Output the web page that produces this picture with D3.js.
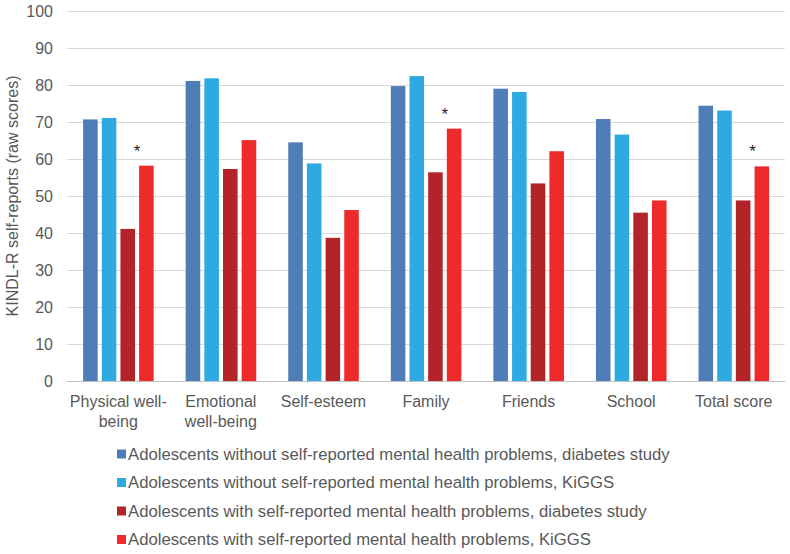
<!DOCTYPE html>
<html>
<head>
<meta charset="utf-8">
<script src="https://cdn.jsdelivr.net/npm/d3@7"></script>
<style>
  body { margin: 0; background: #fff; }
  svg { font-family: "Liberation Sans", Arial, sans-serif; }
</style>
</head>
<body>
<div id="chart"></div>
<script>
var width = 790;
var height = 554;

// categories on the x axis (\n = line break)
var categories = ["Physical well-\nbeing", "Emotional\nwell-being", "Self-esteem", "Family", "Friends", "School", "Total score"];

// series
var seriesNames = [
  "Adolescents without self-reported mental health problems, diabetes study",
  "Adolescents without self-reported mental health problems, KiGGS",
  "Adolescents with self-reported mental health problems, diabetes study",
  "Adolescents with self-reported mental health problems, KiGGS"
];
var withoutDiabetes = [70.7, 81.1, 64.5, 79.7, 79.0, 70.8, 74.4];
var withoutKiggs    = [71.1, 81.8, 58.8, 82.4, 78.1, 66.6, 73.1];
var withDiabetes    = [41.1, 57.3, 38.7, 56.4, 53.4, 45.5, 48.8];
var withKiggs       = [58.2, 65.1, 46.2, 68.2, 62.1, 48.8, 58.0];

// groups marked with an asterisk (significant difference)
var starred = [0, 3, 6];

var yTicks = [0, 10, 20, 30, 40, 50, 60, 70, 80, 90, 100];

var colors = ["#4f7db8", "#2ea9e1", "#b32428", "#ee2a2b"];
var seriesValues = [withoutDiabetes, withoutKiggs, withDiabetes, withKiggs];

var margin = {top: 11, right: 5, bottom: 173, left: 67};
var w = width - margin.left - margin.right;
var h = height - margin.top - margin.bottom;

var svg = d3.select('#chart')
  .append('svg')
    .attr('width', width)
    .attr('height', height);

var g = svg.append('g')
  .attr('transform', 'translate(' + margin.left + ',' + margin.top + ')');

var x0 = d3.scaleBand()
  .domain(categories)
  .range([0, w])
  .padding(0);

var x1 = d3.scaleBand()
  .domain(d3.range(seriesNames.length))
  .range([x0.bandwidth() * 0.157, x0.bandwidth() * 0.845])
  .paddingInner(0.22)
  .paddingOuter(0);

var y = d3.scaleLinear()
  .domain([0, 100])
  .range([h, 0]);

// y axis + gridlines
var yAxis = g.append('g')
  .call(d3.axisLeft(y).tickValues(yTicks).tickSize(-w).tickPadding(14));
yAxis.select('.domain').remove();
yAxis.selectAll('.tick line')
  .attr('stroke', d => d === 0 ? '#bfbfbf' : '#d9d9d9')
  .attr('stroke-width', 1.2);
yAxis.selectAll('.tick text')
  .attr('fill', '#595959')
  .style('font-size', '16px');

// bars
var group = g.selectAll('.grp')
  .data(categories)
  .join('g')
    .attr('class', 'grp')
    .attr('transform', d => 'translate(' + x0(d) + ',0)');

group.selectAll('rect')
  .data((d, i) => seriesValues.map((s, k) => ({k: k, v: s[i]})))
  .join('rect')
    .attr('x', d => x1(d.k))
    .attr('width', x1.bandwidth())
    .attr('y', d => y(d.v))
    .attr('height', d => h - y(d.v))
    .attr('fill', d => colors[d.k]);

// asterisks
g.selectAll('.star')
  .data(starred)
  .join('text')
    .attr('class', 'star')
    .attr('x', i => x0(categories[i]) + (x1(2) + x1.bandwidth() + x1(3)) / 2)
    .attr('y', i => y(withKiggs[i]) - 9)
    .attr('text-anchor', 'middle')
    .attr('fill', '#262626')
    .style('font-size', '17px')
    .text('*');

// x axis labels
var xAxis = g.append('g')
  .attr('transform', 'translate(0,' + h + ')');
var lbl = xAxis.selectAll('text')
  .data(categories)
  .join('text')
    .attr('x', d => x0(d) + x0.bandwidth() / 2)
    .attr('y', 26)
    .attr('text-anchor', 'middle')
    .attr('fill', '#595959')
    .style('font-size', '16px');
lbl.selectAll('tspan')
  .data(d => d.split('\n'))
  .join('tspan')
    .attr('x', function() { return this.parentNode.getAttribute('x'); })
    .attr('dy', (d, i) => i === 0 ? 0 : 20)
    .text(d => d);

// y axis title
svg.append('text')
  .attr('transform', 'translate(18,' + (margin.top + h / 2) + ') rotate(-90)')
  .attr('text-anchor', 'middle')
  .attr('fill', '#595959')
  .style('font-size', '16px')
  .text('KINDL-R self-reports (raw scores)');

// legend
var legend = svg.append('g')
  .attr('transform', 'translate(117,454)');
var item = legend.selectAll('g')
  .data(seriesNames)
  .join('g')
    .attr('transform', (d, i) => 'translate(0,' + (i * 28.5) + ')');
item.append('rect')
  .attr('x', 0)
  .attr('y', -4.5)
  .attr('width', 9)
  .attr('height', 9)
  .attr('fill', (d, i) => colors[i]);
item.append('text')
  .attr('x', 11)
  .attr('dy', '0.35em')
  .attr('fill', '#595959')
  .style('font-size', '16.7px')
  .text(d => d);
</script>
</body>
</html>
